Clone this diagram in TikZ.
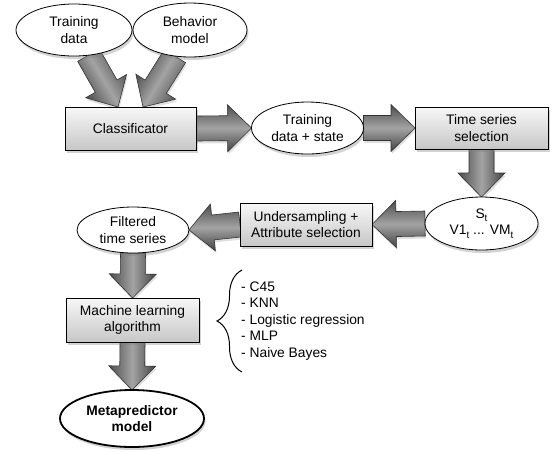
\documentclass[tikz,border=0pt]{standalone}
\usepackage{fontspec}
\setmainfont{Liberation Sans}
\usetikzlibrary{calc,shapes.geometric,shadows,decorations.pathreplacing}
\pgfdeclarelayer{bg}
\pgfsetlayers{bg,main}

% lowered small subscript for the state labels
\newcommand\lowsub[1]{\raisebox{-0.45ex}{\fontsize{10}{10}\selectfont #1}}

% shaded block arrow from #1 to #2; #3 is its direction (for the shading)
\newcommand\fatarrow[3]{%
  \coordinate (fa-s) at #1;
  \coordinate (fa-e) at #2;
  \coordinate (fa-b) at ($(fa-e)!24pt!(fa-s)$);
  \path[flowarrow, shading angle=#3]
    ($(fa-s)!12.5pt!90:(fa-e)$) -- ($(fa-b)!12.5pt!-90:(fa-s)$)
    -- ($(fa-b)!23.5pt!-90:(fa-s)$) -- (fa-e)
    -- ($(fa-b)!23.5pt!90:(fa-s)$) -- ($(fa-b)!12.5pt!90:(fa-s)$)
    -- ($(fa-s)!12.5pt!-90:(fa-e)$) -- cycle;
}

\tikzset{
  txt/.style={font=\fontsize{13.8}{16.5}\selectfont},
  ell/.style={txt, ellipse, draw=black, line width=0.8pt, fill=white,
    inner sep=0pt, outer sep=0pt, align=center,
    drop shadow={opacity=0.35, shadow xshift=1.5pt, shadow yshift=-3pt}},
  box/.style={txt, rectangle, draw=black, line width=0.8pt,
    top color=black!3, bottom color=black!22,
    inner sep=0pt, outer sep=0pt, align=center,
    drop shadow={opacity=0.35, shadow xshift=1.5pt, shadow yshift=-3pt}},
  flowarrow/.style={draw=black!80, line width=0.6pt,
    top color=black!70, bottom color=black!74, middle color=black!36,
    drop shadow={opacity=0.25, shadow xshift=1pt, shadow yshift=-2.5pt}},
}

\begin{document}
\begin{tikzpicture}[x=1pt, y=-1pt]
\useasboundingbox (0,0) rectangle (553,451);

% process nodes
\node[ell, minimum width=116pt, minimum height=52pt] (td) at (74,30) {Training\\data};
\node[ell, minimum width=114pt, minimum height=54pt] (bm) at (190,30) {Behavior\\model};
\node[box, minimum width=131pt, minimum height=43pt] (cls) at (130.5,128.5) {Classificator};
\node[ell, minimum width=112pt, minimum height=52pt] (tds) at (307.5,128) {Training\\data + state};
\node[box, minimum width=133pt, minimum height=42pt] (tss) at (481.5,128) {Time series\\selection};
\node[ell, minimum width=113pt, minimum height=53pt] (st) at (481.5,223.5) {S\lowsub{t}\\V1\lowsub{t} ... VM\lowsub{t}};
\node[box, minimum width=132pt, minimum height=43pt] (us) at (306,224.5) {Undersampling +\\Attribute selection};
\node[ell, minimum width=112pt, minimum height=46pt] (fts) at (133,230) {Filtered\\time series};
\node[box, minimum width=133pt, minimum height=44pt] (ml) at (132.5,320) {Machine learning\\algorithm};
\node[ell, line width=1.8pt, minimum width=144pt, minimum height=57pt,
  font=\fontsize{13.8}{16.5}\selectfont\bfseries] (mp) at (132,418.5) {Metapredictor\\model};

% candidate learners
\node[txt, anchor=west, align=left, inner sep=0pt] (algs) at (241,321)
  {- C45\\- KNN\\- Logistic regression\\- MLP\\- Naive Bayes};
\coordinate (brlow) at (242,372);
\coordinate (brhigh) at (242,270);
\draw[line width=1pt, decorate, decoration={brace, amplitude=25pt}] (brlow) -- (brhigh);

% block arrows, kept behind the nodes
\coordinate (clsinA) at ($(cls.north)+(-12.5,0)$);
\coordinate (clsinB) at ($(cls.north)+(12.5,0)$);
\begin{pgfonlayer}{bg}
  \fatarrow{(td.-60)}{(clsinA)}{-59}
  \fatarrow{(bm.-120)}{(clsinB)}{-121}
  \fatarrow{(cls.east)}{(tds.west)}{0}
  \fatarrow{(tds.east)}{(tss.west)}{0}
  \fatarrow{(tss.south)}{(st.north)}{90}
  \fatarrow{(st.west)}{(us.east)}{0}
  \fatarrow{(us.west)}{(fts.east)}{0}
  \fatarrow{(fts.south)}{(ml.north)}{90}
  \fatarrow{(ml.south)}{(mp.north)}{90}
\end{pgfonlayer}
\end{tikzpicture}
\end{document}
